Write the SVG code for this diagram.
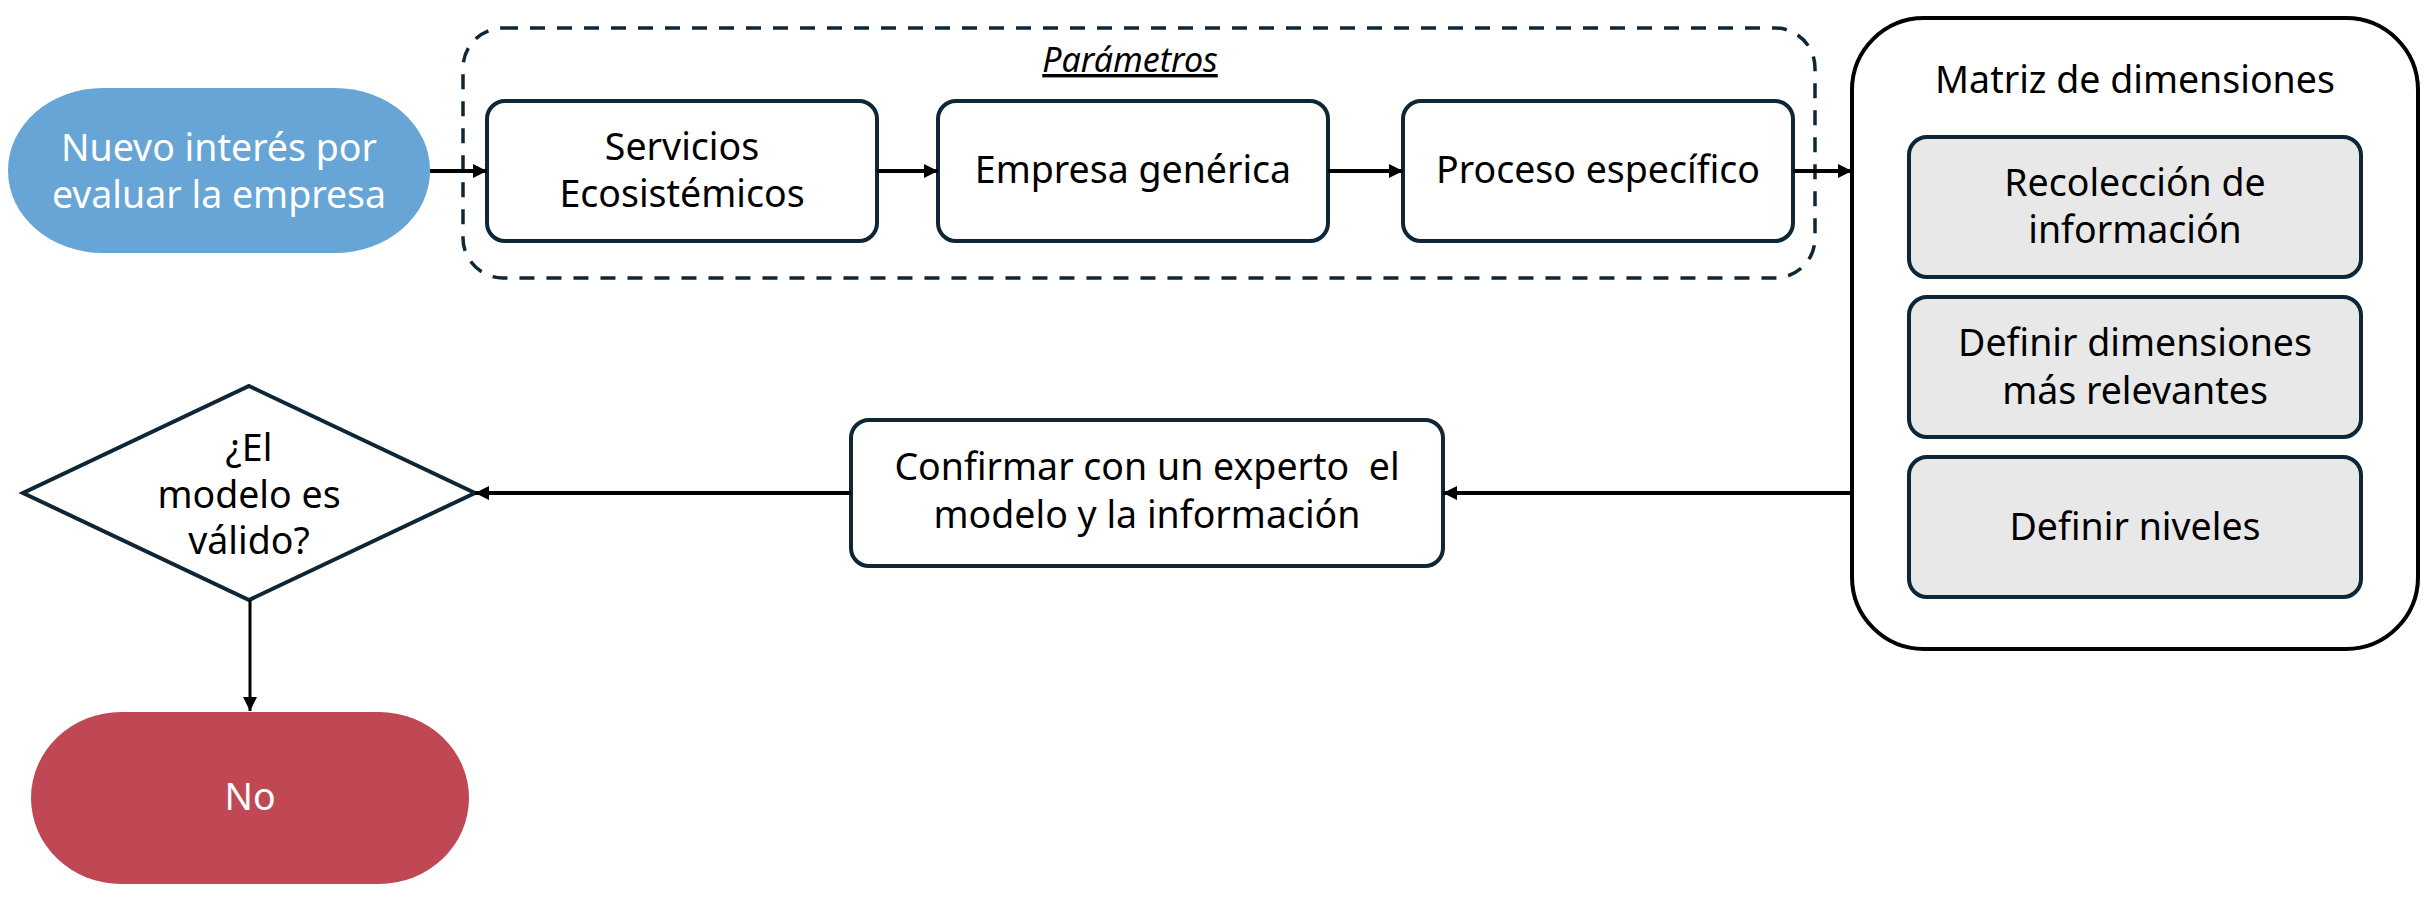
<svg xmlns="http://www.w3.org/2000/svg" width="2428" height="900" viewBox="0 0 2428 900">
<style>
text{font-family:"Noto Sans","Liberation Sans",Arial,sans-serif;font-size:37.5px;text-anchor:middle;fill:#000}
.w{fill:#fff}
.box{fill:#fff;stroke:#0F2636;stroke-width:4}
.gbox{fill:#E8E8E8;stroke:#0F2636;stroke-width:4}
.conn{stroke:#000;stroke-width:4;fill:none}
.thin{stroke:#000;stroke-width:3;fill:none}
</style>
<defs>
<marker id="ah" markerUnits="userSpaceOnUse" markerWidth="16" markerHeight="16" refX="14" refY="7" orient="auto">
<path d="M0,0 L14,7 L0,14 z" fill="#000"/>
</marker>
</defs>
<rect width="2428" height="900" fill="#fff"/>

<g id="parametros">
<rect x="463" y="28" width="1352" height="250" rx="40" fill="none" stroke="#0F2636" stroke-width="3.5" stroke-dasharray="15 12"/>
<text x="1130" y="72" style="font-style:italic;font-size:34px;text-decoration:underline">Parámetros</text>
</g>

<g id="inicio">
<rect x="8" y="88" width="422" height="165" rx="95" ry="82" fill="#67A5D6"/>
<text class="w" x="219" y="161">Nuevo interés por</text>
<text class="w" x="219" y="208">evaluar la empresa</text>
</g>

<g id="servicios">
<rect class="box" x="487" y="101" width="390" height="140" rx="18"/>
<text x="682" y="160">Servicios</text>
<text x="682" y="207">Ecosistémicos</text>
</g>

<g id="empresa">
<rect class="box" x="938" y="101" width="390" height="140" rx="18"/>
<text x="1133" y="183">Empresa genérica</text>
</g>

<g id="proceso">
<rect class="box" x="1403" y="101" width="390" height="140" rx="18"/>
<text x="1598" y="183">Proceso específico</text>
</g>

<g id="matriz">
<rect x="1852" y="18" width="566" height="631" rx="72" fill="#fff" stroke="#000" stroke-width="4"/>
<text x="2135" y="93">Matriz de dimensiones</text>
</g>

<g id="recoleccion">
<rect class="gbox" x="1909" y="137" width="452" height="140" rx="18"/>
<text x="2135" y="196">Recolección de</text>
<text x="2135" y="243">información</text>
</g>

<g id="definir-dimensiones">
<rect class="gbox" x="1909" y="297" width="452" height="140" rx="18"/>
<text x="2135" y="356">Definir dimensiones</text>
<text x="2135" y="404">más relevantes</text>
</g>

<g id="definir-niveles">
<rect class="gbox" x="1909" y="457" width="452" height="140" rx="18"/>
<text x="2135" y="540">Definir niveles</text>
</g>

<g id="confirmar">
<rect class="box" x="851" y="420" width="592" height="146" rx="18"/>
<text x="1147" y="480" xml:space="preserve">Confirmar con un experto  el</text>
<text x="1147" y="528">modelo y la información</text>
</g>

<g id="decision">
<polygon points="249,386 475,493 249,600 23,493" fill="#fff" stroke="#0F2636" stroke-width="4"/>
<text x="249" y="461">¿El</text>
<text x="249" y="508">modelo es</text>
<text x="249" y="554">válido?</text>
</g>

<g id="no">
<rect x="31" y="712" width="438" height="172" rx="90" ry="86" fill="#C04855"/>
<text class="w" x="250" y="810">No</text>
</g>

<g id="connectors">
<line class="conn" x1="430" y1="171" x2="487" y2="171" marker-end="url(#ah)"/>
<line class="conn" x1="877" y1="171" x2="938" y2="171" marker-end="url(#ah)"/>
<line class="conn" x1="1328" y1="171" x2="1403" y2="171" marker-end="url(#ah)"/>
<line class="conn" x1="1793" y1="171" x2="1852" y2="171" marker-end="url(#ah)"/>
<line class="conn" x1="1852" y1="493" x2="1443" y2="493" marker-end="url(#ah)"/>
<line class="conn" x1="851" y1="493" x2="475" y2="493" marker-end="url(#ah)"/>
<line class="thin" x1="250" y1="600" x2="250" y2="711" marker-end="url(#ah)"/>
</g>
</svg>
